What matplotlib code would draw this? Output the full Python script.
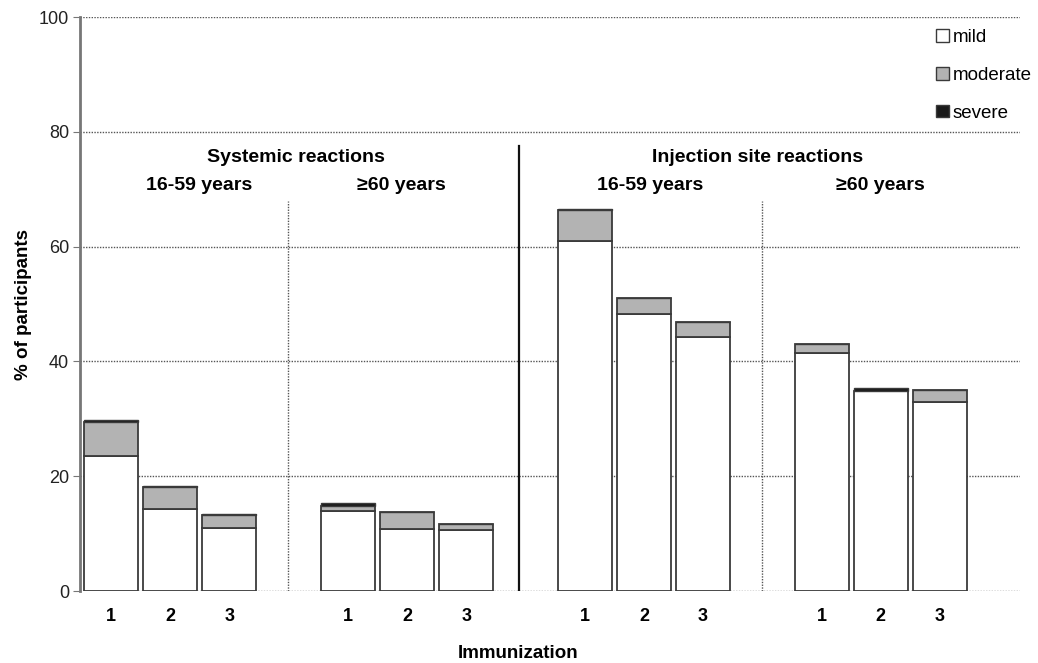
import matplotlib.pyplot as plt
from matplotlib.patches import Patch

plt.rcParams['font.family'] = ['Liberation Sans', 'DejaVu Sans']

# bar slots: systemic 16-59, systemic >=60, injection 16-59, injection >=60
positions = [0, 1, 2, 4, 5, 6, 8, 9, 10, 12, 13, 14]
immunization = ['1', '2', '3'] * 4
mild = [23.5, 14.3, 11.0, 13.9, 10.8, 10.7, 61.0, 48.2, 44.3, 41.5, 34.8, 33.0]
moderate = [5.9, 3.8, 2.3, 0.9, 2.9, 1.0, 5.3, 2.9, 2.5, 1.5, 0.1, 2.0]
severe = [0.4, 0.2, 0.2, 0.6, 0.0, 0.0, 0.2, 0.0, 0.0, 0.0, 0.4, 0.0]

age_groups = ['16-59 years', '\u226560 years', '16-59 years', '\u226560 years']
age_centers = [1.49, 4.91, 9.1, 13.0]
reaction_types = ['Systemic reactions', 'Injection site reactions']
reaction_centers = [3.12, 10.92]

fig = plt.figure(figsize=(10.38, 6.63), dpi=100)
ax = fig.add_axes([80 / 1038, 1 - 591 / 663, 940 / 1038, 574 / 663])

edge = '#3a3a3a'
w = 0.91
ax.bar(positions, mild, width=w, color='white', edgecolor=edge, linewidth=1.3, zorder=3)
bot2 = [m for m in mild]
ax.bar(positions, moderate, width=w, bottom=bot2, color='#b3b3b3', edgecolor=edge, linewidth=1.3, zorder=3)
bot3 = [m + d for m, d in zip(mild, moderate)]
ax.bar(positions, severe, width=w, bottom=bot3, color='#1a1a1a', edgecolor=edge, linewidth=1.0, zorder=3)

ax.set_xlim(-0.52, 15.35)
ax.set_ylim(0, 100)

# gridlines
for yv in [0, 20, 40, 60, 80, 100]:
    ax.axhline(yv, color='#555555', linestyle=(0, (1, 1)), linewidth=1.0, zorder=1)

# dividers
ax.plot([3, 3], [0, 68], color='#555555', linestyle=(0, (1, 1)), linewidth=1.0, zorder=1)
ax.plot([11, 11], [0, 68], color='#555555', linestyle=(0, (1, 1)), linewidth=1.0, zorder=1)
ax.plot([6.9, 6.9], [0, 77.5], color='#111111', linewidth=1.6, zorder=2)

for s in ['top', 'right', 'bottom']:
    ax.spines[s].set_visible(False)
ax.spines['left'].set_color('#777777')
ax.spines['left'].set_linewidth(2.0)

ax.set_yticks([0, 20, 40, 60, 80, 100])
ax.tick_params(axis='y', labelsize=13, length=5, color='#777777', pad=3, labelcolor='#222222')
ax.set_xticks(positions)
ax.set_xticklabels(immunization, fontsize=13, fontweight='bold')
ax.tick_params(axis='x', length=0, pad=12)

ax.set_ylabel('% of participants', fontsize=13.5, fontweight='bold', labelpad=5)
ax.set_xlabel('Immunization', fontsize=13.5, fontweight='bold', labelpad=15, x=0.466)

for txt, xc in zip(reaction_types, reaction_centers):
    ax.text(xc, 75.6, txt, ha='center', va='center', fontsize=14, fontweight='bold')
for txt, xc in zip(age_groups, age_centers):
    ax.text(xc, 70.7, txt, ha='center', va='center', fontsize=14, fontweight='bold')

handles = [Patch(facecolor='white', edgecolor=edge, label='mild'),
           Patch(facecolor='#b3b3b3', edgecolor=edge, label='moderate'),
           Patch(facecolor='#1a1a1a', edgecolor=edge, label='severe')]
ax.legend(handles=handles, loc='upper right', bbox_to_anchor=(1.030, 1.008), frameon=False,
          fontsize=13.5, handlelength=0.65, handleheight=0.65, handletextpad=0.2,
          labelspacing=1.1)

fig.savefig('out.png', dpi=100)
